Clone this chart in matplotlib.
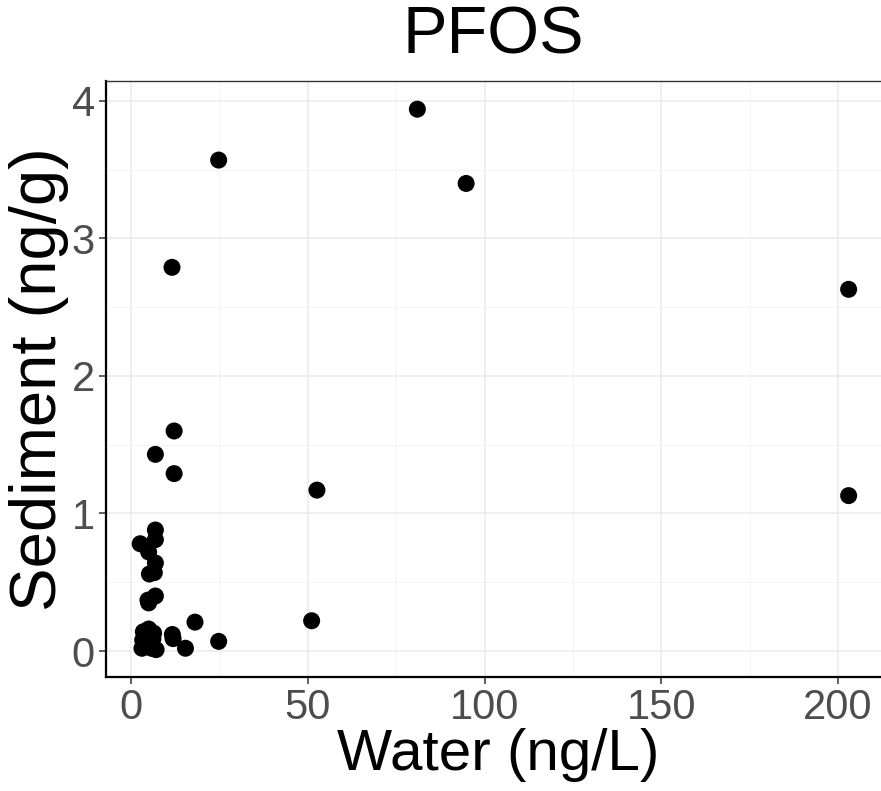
import matplotlib
matplotlib.use("Agg")
import matplotlib.pyplot as plt
from matplotlib.ticker import MultipleLocator

plt.rcParams['font.family'] = ['Liberation Sans', 'DejaVu Sans']

water = [81.0, 24.8, 94.8, 11.6, 203.0, 12.2, 12.2, 6.9, 52.6, 203.0,
         51.1, 18.1, 24.8, 15.4, 11.7, 11.9,
         6.9, 6.9, 2.6, 5.0, 6.9, 6.6, 5.2, 6.9, 5.0, 4.8,
         3.5, 5.0, 6.4, 3.1, 7.1, 5.0, 6.2, 4.2, 3.3, 5.8]
sediment = [3.94, 3.57, 3.40, 2.79, 2.63, 1.60, 1.29, 1.43, 1.17, 1.13,
            0.22, 0.21, 0.07, 0.02, 0.12, 0.09,
            0.88, 0.81, 0.78, 0.72, 0.64, 0.57, 0.56, 0.40, 0.35, 0.37,
            0.14, 0.16, 0.13, 0.02, 0.01, 0.06, 0.09, 0.10, 0.08, 0.02]

xticks = [0, 50, 100, 150, 200]
yticks = [0, 1, 2, 3, 4]

fig = plt.figure(figsize=(8.81, 7.91), dpi=100)
ax = fig.add_axes([106/881, 1 - 677/791, (890 - 106)/881, (677 - 81)/791])

ax.scatter(water, sediment, s=150, c='black', edgecolors='none', zorder=3)

ax.set_xlim(-7.07, 214.7)
ax.set_ylim(-0.189, 4.145)
ax.set_xticks(xticks)
ax.set_yticks(yticks)
ax.xaxis.set_minor_locator(MultipleLocator(25))
ax.yaxis.set_minor_locator(MultipleLocator(0.5))
ax.grid(which='major', color='#EBEBEB', linewidth=1.1, zorder=0)
ax.grid(which='minor', color='#F2F2F2', linewidth=0.6, zorder=0)
ax.set_axisbelow(True)

for side in ['top', 'right']:
    ax.spines[side].set_color('#333333')
    ax.spines[side].set_linewidth(1.0)
for side in ['left', 'bottom']:
    ax.spines[side].set_color('black')
    ax.spines[side].set_linewidth(1.6)

ax.tick_params(which='major', length=5, width=1.1, color='#333333',
               labelsize=30, labelcolor='#4D4D4D', pad=3)
ax.tick_params(which='minor', length=0)

ax.set_xlabel('Water (ng/L)', fontsize=42, color='black', labelpad=0)
ax.set_ylabel('Sediment (ng/g)', fontsize=47, color='black', labelpad=2)
fig.text(493/881, 1 - 36/791, 'PFOS', fontsize=48, ha='center', va='center')

fig.savefig('out.png', dpi=100)
